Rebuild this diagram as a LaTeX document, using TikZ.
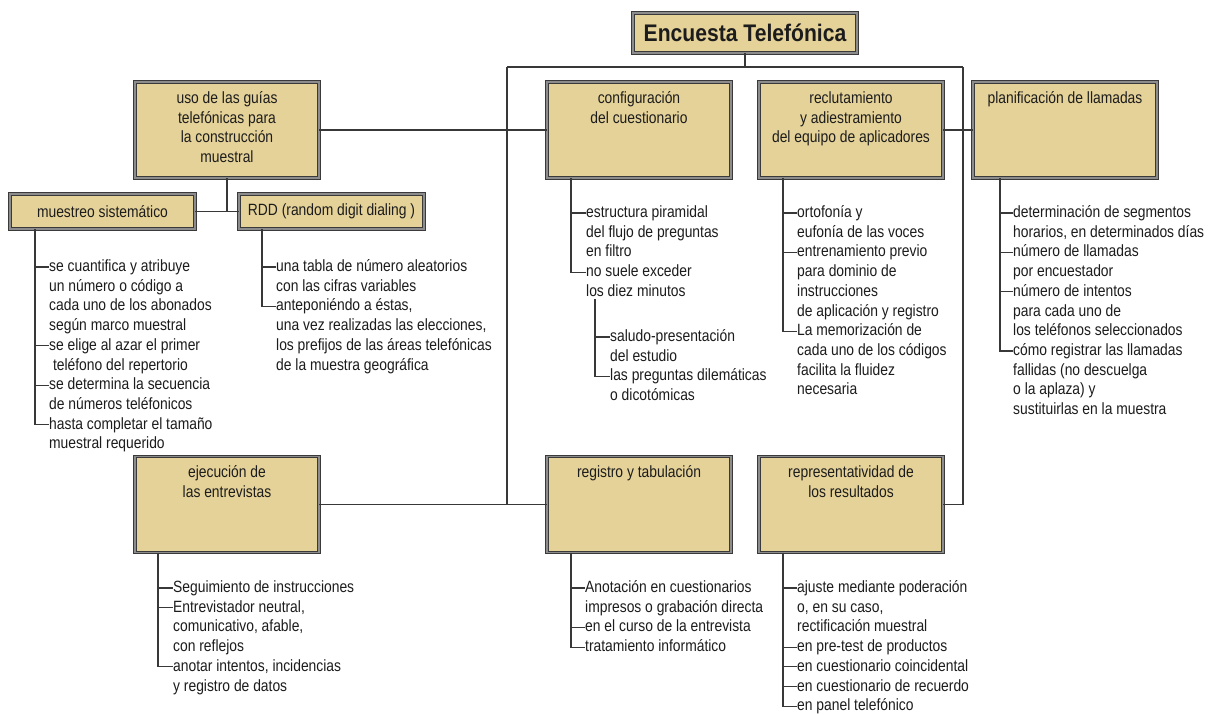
\documentclass[tikz,border=0pt]{standalone}
\usepackage{fontspec}
\setmainfont{Liberation Sans}[FakeStretch=0.85]
\newfontfamily\titlefont{Liberation Sans}[FakeStretch=0.88]
\definecolor{boxfill}{HTML}{E5D298}
\definecolor{boxedge}{HTML}{3A3A3A}
\definecolor{boxrim}{HTML}{8C8C8C}
\definecolor{linegray}{HTML}{383838}
\definecolor{inkgray}{HTML}{1C1C1C}
\newcommand{\bodyfont}{\fontsize{16.3pt}{19.7pt}\selectfont}
\newcommand{\lst}[1]{\begin{tabular}[t]{@{}l@{}}#1\end{tabular}}
\newcommand{\boxtxt}[1]{\vbox to 96pt{\vskip7.7pt\hbox to 184pt{\hss\begin{tabular}[t]{@{}c@{}}#1\end{tabular}\hss}\vfill}}
\tikzset{
  kbox/.style={draw=boxedge, line width=0.9pt, double=boxrim, double distance=1.4pt,
    fill=boxfill, inner sep=0pt, text=inkgray, font=\bodyfont},
  item/.style={anchor=base west, inner sep=0pt, text=inkgray, font=\bodyfont},
  wire/.style={draw=linegray, line width=1.2pt},
}
\begin{document}
\begin{tikzpicture}[x=1pt, y=-1pt]
  \fill[white] (0,0) rectangle (1211,715);
  \useasboundingbox (0,0) rectangle (1211,715);
  % main boxes
  \node[kbox, minimum width=224pt, minimum height=40pt,
    font=\titlefont\bfseries\fontsize{24pt}{27pt}\selectfont] (title) at (745,33) {Encuesta Telefónica};
  \node[kbox] (uso) at (227,130) {\boxtxt{uso de las guías\\telefónicas para\\la construcción\\muestral}};
  \node[kbox] (config) at (639,130) {\boxtxt{configuración\\del cuestionario}};
  \node[kbox] (reclut) at (851,130) {\boxtxt{reclutamiento\\y adiestramiento\\del equipo de aplicadores}};
  \node[kbox] (planif) at (1065,130) {\boxtxt{planificación de llamadas}};
  \node[kbox] (ejec) at (227,504.5) {\boxtxt{ejecución de\\las entrevistas}};
  \node[kbox] (regis) at (639,504.5) {\boxtxt{registro y tabulación}};
  \node[kbox] (repr) at (851,504.5) {\boxtxt{representatividad de\\los resultados}};
  \node[kbox, minimum width=185pt, minimum height=35pt] (msys) at (102.5,211.5) {muestreo sistemático};
  \node[kbox, minimum width=185pt, minimum height=35pt] (rdd) at (331.5,211.5) {RDD (random digit dialing )};

  % bus
  \coordinate (busL) at (507,67);
  \coordinate (busR) at (963,67);
  \draw[wire] (title.south) -- (title.south |- busL);
  \draw[wire] (busL) -- (busR);
  \draw[wire] (busL) -- (busL |- ejec.east);
  \draw[wire] (busR) |- (repr.east);
  \draw[wire] (uso.east) -- (config.west);
  \draw[wire] (reclut.east) -- (planif.west);
  \draw[wire] (ejec.east) -- (regis.west);
  \draw[wire] (uso.south) -- (uso.south |- msys.east);
  \draw[wire] (msys.east) -- (rdd.west);

  % muestreo sistematico
  \node[item] (m1) at (49,271.5) {\lst{se cuantifica y atribuye\\un número o código a\\cada uno de los abonados\\según marco muestral}};
  \node[item] (m2) at (49,350.3) {\lst{se elige al azar el primer\\\ teléfono del repertorio}};
  \node[item] (m3) at (49,389.7) {\lst{se determina la secuencia\\de números teléfonicos}};
  \node[item] (m4) at (49,429.1) {\lst{hasta completar el tamaño\\muestral requerido}};
  \coordinate (mx) at (35,0);
  \foreach \n in {m1,m2,m3,m4}
    \draw[wire] (msys.south -| mx) |- ([yshift=4.5pt]\n.base west);

  % RDD
  \node[item] (r1) at (276,271.5) {\lst{una tabla de número aleatorios\\con las cifras variables}};
  \node[item] (r2) at (276,310.9) {\lst{anteponiéndo a éstas,\\una vez realizadas las elecciones,\\los prefijos de las áreas telefónicas\\de la muestra geográfica}};
  \coordinate (rx) at (262,0);
  \foreach \n in {r1,r2}
    \draw[wire] (rdd.south -| rx) |- ([yshift=4.5pt]\n.base west);

  % cuestionario
  \node[item] (c1) at (586,217.5) {\lst{estructura piramidal\\del flujo de preguntas\\en filtro}};
  \node[item] (c2) at (586,276.6) {\lst{no suele exceder\\los diez minutos}};
  \node[item] (c3) at (610,341.5) {\lst{saludo-presentación\\del estudio}};
  \node[item] (c4) at (610,380.9) {\lst{las preguntas dilemáticas\\o dicotómicas}};
  \coordinate (cx) at (571,0);
  \coordinate (csub) at (595,299);
  \foreach \n in {c1,c2}
    \draw[wire] (config.south -| cx) |- ([yshift=4.5pt]\n.base west);
  \foreach \n in {c3,c4}
    \draw[wire] (csub) |- ([yshift=4.5pt]\n.base west);

  % aplicadores
  \node[item] (e1) at (797,217.5) {\lst{ortofonía y\\eufonía de las voces}};
  \node[item] (e2) at (797,256.9) {\lst{entrenamiento previo\\para dominio de\\instrucciones\\de aplicación y registro}};
  \node[item] (e3) at (797,335.7) {\lst{La memorización de\\cada uno de los códigos\\facilita la fluidez\\necesaria}};
  \coordinate (ex) at (783,0);
  \foreach \n in {e1,e2,e3}
    \draw[wire] (reclut.south -| ex) |- ([yshift=4.5pt]\n.base west);

  % llamadas
  \node[item] (p1) at (1013,217.5) {\lst{determinación de segmentos\\horarios, en determinados días}};
  \node[item] (p2) at (1013,256.9) {\lst{número de llamadas\\por encuestador}};
  \node[item] (p3) at (1013,296.3) {\lst{número de intentos\\para cada uno de\\los teléfonos seleccionados}};
  \node[item] (p4) at (1013,355.4) {\lst{cómo registrar las llamadas\\fallidas (no descuelga\\o la aplaza) y\\sustituirlas en la muestra}};
  \coordinate (px) at (1000,0);
  \foreach \n in {p1,p2,p3,p4}
    \draw[wire] (planif.south -| px) |- ([yshift=4.5pt]\n.base west);

  % entrevistas
  \node[item] (j1) at (173,592.5) {\lst{Seguimiento de instrucciones}};
  \node[item] (j2) at (173,612.2) {\lst{Entrevistador neutral,\\comunicativo, afable,\\con reflejos}};
  \node[item] (j3) at (173,671.3) {\lst{anotar intentos, incidencias\\y registro de datos}};
  \coordinate (jx) at (158,0);
  \foreach \n in {j1,j2,j3}
    \draw[wire] (ejec.south -| jx) |- ([yshift=4.5pt]\n.base west);

  % tabulacion
  \node[item] (g1) at (585,592.5) {\lst{Anotación en cuestionarios\\impresos o grabación directa}};
  \node[item] (g2) at (585,631.9) {\lst{en el curso de la entrevista}};
  \node[item] (g3) at (585,651.6) {\lst{tratamiento informático}};
  \coordinate (gx) at (571,0);
  \foreach \n in {g1,g2,g3}
    \draw[wire] (regis.south -| gx) |- ([yshift=4.5pt]\n.base west);

  % resultados
  \node[item] (s1) at (797,592.5) {\lst{ajuste mediante poderación\\o, en su caso,\\rectificación muestral}};
  \node[item] (s2) at (797,651.6) {\lst{en pre-test de productos}};
  \node[item] (s3) at (797,671.3) {\lst{en cuestionario coincidental}};
  \node[item] (s4) at (797,691.0) {\lst{en cuestionario de recuerdo}};
  \node[item] (s5) at (797,710.7) {\lst{en panel telefónico}};
  \coordinate (sx) at (783,0);
  \foreach \n in {s1,s2,s3,s4,s5}
    \draw[wire] (repr.south -| sx) |- ([yshift=4.5pt]\n.base west);
\end{tikzpicture}
\end{document}
